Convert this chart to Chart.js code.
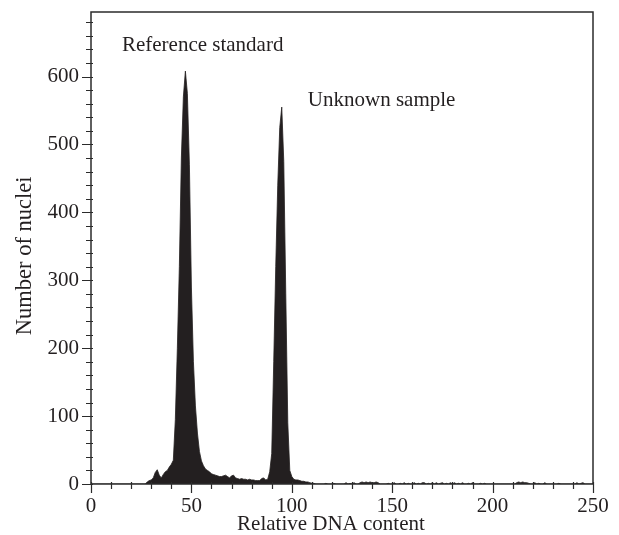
<!DOCTYPE html>
<html>
<head>
<meta charset="utf-8">
<script src="https://cdn.jsdelivr.net/npm/chart.js@4.4.1/dist/chart.umd.min.js"></script>
<style>
  html, body { margin: 0; padding: 0; background: #fff; }
</style>
</head>
<body>
<canvas id="histo" width="619" height="535"></canvas>
<script>
// DNA histogram – counts per channel
const DENSE_START = 27; // channel of the first value in denseCounts
const denseCounts = [
  0, 3, 5, 6, 9, 17, 21, 13, 9, 14,          // 27-36
  18, 20, 25, 29, 35, 95, 200, 320, 480, 570, // 37-46
  608, 575, 470, 290, 180, 115, 75, 48, 34, 27, // 47-56
  22, 20, 18, 15, 14, 13, 12, 11, 11, 12,     // 57-66
  13, 11, 9, 12, 13, 9, 8, 7, 8, 7,           // 67-76
  7, 6, 7, 6, 6, 5, 5, 5, 8, 9,               // 77-86
  6, 7, 18, 45, 180, 320, 440, 525, 555, 475, // 87-96
  280, 90, 20, 11, 7, 6, 6, 5, 4, 4,          // 97-106
  3, 3, 2, 1, 1, 0                            // 107-112
];
// sparse debris along the baseline
const noiseChannels = [117, 121, 127, 129, 131, 134, 135, 136, 137, 138, 139, 140, 141, 142, 143,
  148, 151, 154, 156, 158, 161, 163, 165, 166, 168, 170, 172, 174, 175, 177, 179, 181, 183, 185,
  188, 190, 194, 196, 212, 213, 214, 215, 216, 217, 218, 221, 223, 226, 233, 242, 244, 245];
const noiseCounts = [1, 1, 2, 1, 2, 2, 3, 2, 3, 2, 3, 2, 2, 3, 2,
  1, 2, 1, 2, 1, 2, 1, 2, 2, 1, 2, 2, 1, 2, 1, 2, 2, 1, 2,
  1, 2, 1, 1, 2, 3, 2, 3, 2, 2, 1, 2, 1, 2, 1, 2, 1, 2];

const xMajorTicks = [0, 50, 100, 150, 200, 250];
const yMajorTicks = [0, 100, 200, 300, 400, 500, 600];
const X_MINOR = 10, Y_MINOR = 20;
const X_MAX = 250, Y_MAX = 695;

const noteTexts = ['Reference standard', 'Unknown sample'];
const noteX = [15.4, 108];
const noteY = [638, 557];

const INK = '#231f20';
const FONT = "'Liberation Serif', 'Times New Roman', serif";

// build full channel table 0..250
const counts = new Array(X_MAX + 1).fill(0);
denseCounts.forEach((c, i) => { counts[DENSE_START + i] = c; });
noiseChannels.forEach((ch, i) => { counts[ch] = noiseCounts[i]; });
const points = counts.map((c, ch) => ({ x: ch, y: c }));

// frame, minor/major tick marks, notes and axis titles
const frameTicks = {
  id: 'frameTicks',
  afterDraw(chart) {
    const { ctx, chartArea: a, scales: { x, y } } = chart;
    ctx.save();
    ctx.strokeStyle = '#2b2b2b';
    ctx.lineWidth = 1.5;
    ctx.strokeRect(a.left, a.top, a.right - a.left, a.bottom - a.top);

    ctx.lineWidth = 1.2;
    ctx.beginPath();
    for (let v = 0; v <= X_MAX; v += X_MINOR) {
      const px = Math.round(x.getPixelForValue(v)) + 0.5;
      const len = xMajorTicks.includes(v) ? 9 : 5;
      ctx.moveTo(px, a.bottom - 2);
      ctx.lineTo(px, a.bottom + len);
    }
    for (let v = 0; v <= Y_MAX; v += Y_MINOR) {
      const py = Math.round(y.getPixelForValue(v)) + 0.5;
      const len = yMajorTicks.includes(v) ? 9 : 5;
      ctx.moveTo(a.left + 2, py);
      ctx.lineTo(a.left - len, py);
    }
    ctx.stroke();

    ctx.fillStyle = INK;
    ctx.font = '21px ' + FONT;
    ctx.textAlign = 'left';
    ctx.textBaseline = 'alphabetic';
    noteTexts.forEach((t, i) => {
      ctx.fillText(t, x.getPixelForValue(noteX[i]), y.getPixelForValue(noteY[i]));
    });

    ctx.textAlign = 'center';
    ctx.textBaseline = 'middle';
    ctx.fillText('Relative DNA content', x.getPixelForValue(119.5), 524);

    ctx.font = '22.5px ' + FONT;
    ctx.translate(25, y.getPixelForValue(336));
    ctx.rotate(-Math.PI / 2);
    ctx.fillText('Number of nuclei', 0, 0);
    ctx.restore();
  }
};

new Chart(document.getElementById('histo'), {
  type: 'line',
  data: {
    datasets: [{
      data: points,
      borderColor: INK,
      backgroundColor: INK,
      borderWidth: 0.8,
      fill: 'origin',
      tension: 0,
      pointRadius: 0
    }]
  },
  options: {
    responsive: false,
    animation: false,
    devicePixelRatio: 1,
    layout: { padding: { left: 0, top: 12, right: 26, bottom: 0 } },
    plugins: { legend: { display: false }, tooltip: { enabled: false } },
    scales: {
      x: {
        type: 'linear', min: 0, max: X_MAX,
        afterBuildTicks: s => { s.ticks = xMajorTicks.map(v => ({ value: v })); },
        afterFit: s => { s.height = 51; s.paddingLeft = 0; s.paddingRight = 0; },
        grid: { display: false, drawTicks: false },
        border: { display: false },
        ticks: { color: INK, font: { family: FONT, size: 21 }, padding: 10, maxRotation: 0, autoSkip: false }
      },
      y: {
        min: 0, max: Y_MAX,
        afterBuildTicks: s => { s.ticks = yMajorTicks.map(v => ({ value: v })); },
        afterFit: s => { s.width = 91; s.paddingTop = 0; s.paddingBottom = 0; },
        grid: { display: false, drawTicks: false },
        border: { display: false },
        ticks: { color: INK, font: { family: FONT, size: 21 }, padding: 12, autoSkip: false }
      }
    }
  },
  plugins: [frameTicks]
});
</script>
</body>
</html>
